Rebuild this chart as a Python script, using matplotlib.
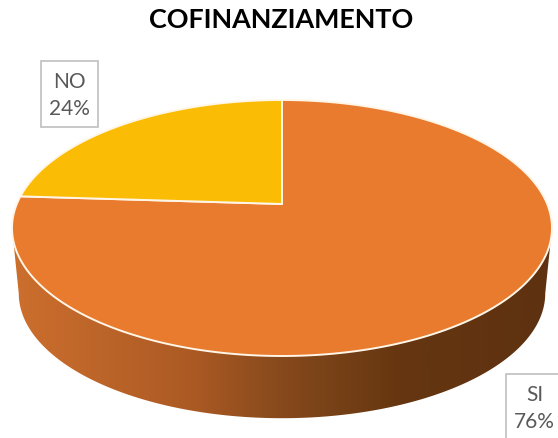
import numpy as np
import matplotlib
matplotlib.use("Agg")
import matplotlib.pyplot as plt
from matplotlib.patches import Polygon, Rectangle
from matplotlib.colors import LinearSegmentedColormap

categories = ["SI", "NO"]
values = [76, 24]
colors = ["#E97B2F", "#FBBC05"]
title = "COFINANZIAMENTO"

plt.rcParams['font.family'] = ['Lato', 'DejaVu Sans']

W, H = 558, 439
fig = plt.figure(figsize=(W / 100, H / 100), dpi=100, facecolor="white")
ax = fig.add_axes([0, 0, 1, 1])
ax.set_xlim(0, W)
ax.set_ylim(H, 0)
ax.axis("off")

# perspective projection of a flat disc
CX, CY = 282, 205
A, B, K = 265.2, 123.5, 0.1875
DEPTH, SHRINK = 66, 0.975


def project(theta_deg, r=1.0, dy=0.0, s=1.0):
    t = np.radians(theta_deg)
    x, y = r * np.cos(t), r * np.sin(t)
    d = 1 + K * y
    return np.column_stack([CX + s * A * x / d, CY + dy - s * B * y / d])


# side wall: silhouette between the widest points of the top and bottom discs
t_full = np.linspace(190.8, 349.2, 240)
lower = project(t_full, dy=DEPTH, s=SHRINK)
upper = project(t_full[::-1])
wall = Polygon(np.vstack([lower, upper]), closed=True, fc="none", ec="none")
ax.add_patch(wall)
cmap = LinearSegmentedColormap.from_list(
    "wall", [(0, "#CC6F2E"), (0.33, "#AC5A24"), (0.5, "#86491C"),
             (0.72, "#653610"), (1, "#5E3110")])
grad = np.linspace(0, 1, 512).reshape(1, -1)
im = ax.imshow(grad, cmap=cmap, extent=[12, 552, 430, 190], aspect="auto", zorder=1)
im.set_clip_path(wall)
ax.set_xlim(0, W)
ax.set_ylim(H, 0)

# top slices, clockwise from 12 o'clock
start = 90.0
for val, col in zip(values, colors):
    sweep = 360.0 * val / sum(values)
    th = np.linspace(start, start - sweep, 400)
    pts = np.vstack([[CX, CY], project(th)])
    ax.add_patch(Polygon(pts, closed=True, fc=col, ec="#FFF6E8", lw=1.4,
                         joinstyle="round", zorder=2))
    start -= sweep

# labels
boxes = {"NO": (41, 62, 57, 66), "SI": (506, 375, 57, 66)}
for cat, val in zip(categories, values):
    x, y, w, h = boxes[cat]
    ax.add_patch(Rectangle((x, y), w, h, fc="white", ec="#BFBFBF", lw=1.2, zorder=3))
    ax.text(x + w / 2, y + h / 2 + 0.5, f"{cat}\n{val}%", ha="center", va="center",
            fontsize=15, color="#595959", linespacing=1.42, zorder=4)

ax.text(281, 19.5, title, ha="center", va="center", fontsize=19.4,
        fontweight="bold", color="black")

fig.savefig("out.png", dpi=100, facecolor="white")
